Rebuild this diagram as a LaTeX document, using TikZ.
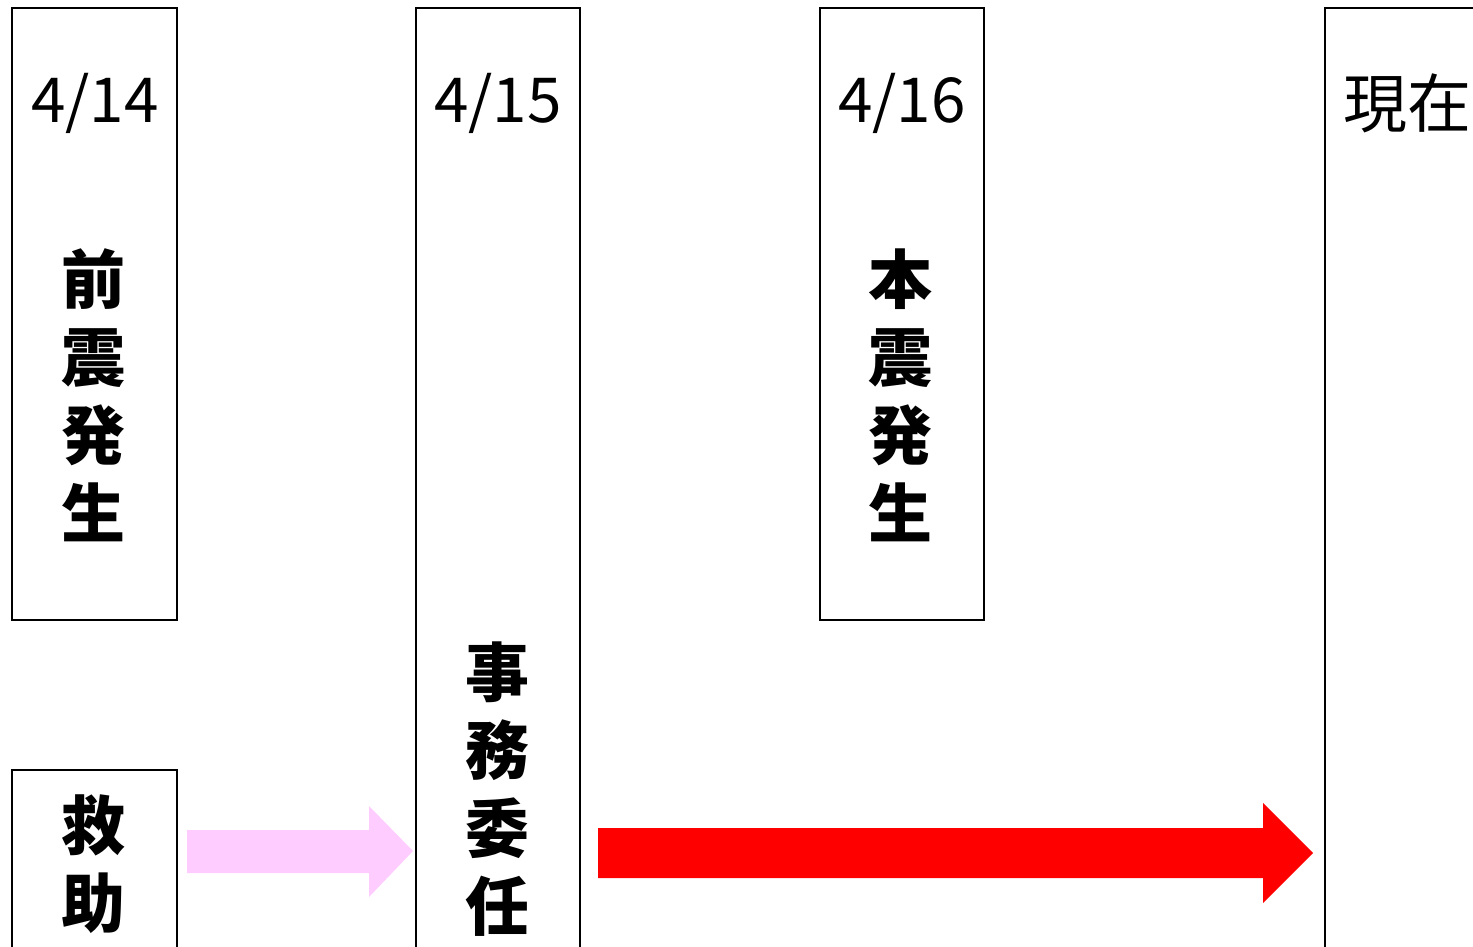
\documentclass[tikz,border=0pt]{standalone}
\usepackage{fontspec}
\newfontfamily\jp{Noto Sans CJK JP}
\begin{document}
\begin{tikzpicture}[x=1pt,y=-1pt,
  box/.style={draw=black,line width=2pt,fill=none},
  date/.style={font=\jp\fontsize{62}{70}\selectfont,inner sep=0pt},
  vtext/.style={font=\jp\bfseries\fontsize{64}{78}\selectfont,align=center,inner sep=0pt},
  now/.style={font=\jp\fontsize{64}{70}\selectfont,inner sep=0pt,anchor=west}]
\useasboundingbox (0,0) rectangle (1473,947);
\begin{scope}
\clip (0,0) rectangle (1473,947);
% boxes
\draw[box] (12,8) rectangle (177,620);
\draw[box] (12,770) rectangle (177,960);
\draw[box] (416,8) rectangle (580,960);
\draw[box] (820,8) rectangle (984,620);
\draw[box] (1325,8) rectangle (1495,960);
% texts
\node[date] (d14) at (95,103) {4/14};
\node[date] (d15) at (498,103) {4/15};
\node[date] (d16) at (902,103) {4/16};
\node[now] (now) at (1343,103) {現在};
\node[vtext] (zen) at (93,395) {前\\震\\発\\生};
\node[vtext] (hon) at (900,395) {本\\震\\発\\生};
\node[vtext] (kyu) at (93,864) {救\\助};
\node[vtext] (jim) at (497,789) {事\\務\\委\\任};
% arrows
\fill[fill={rgb,255:red,255;green,204;blue,255}]
  (187,830) -- (369,830) -- (369,806) -- (413,851) -- (369,897) -- (369,873) -- (187,873) -- cycle;
\fill[red]
  (598,828) -- (1263,828) -- (1263,803) -- (1313,853) -- (1263,903) -- (1263,878) -- (598,878) -- cycle;
\end{scope}
\end{tikzpicture}
\end{document}
